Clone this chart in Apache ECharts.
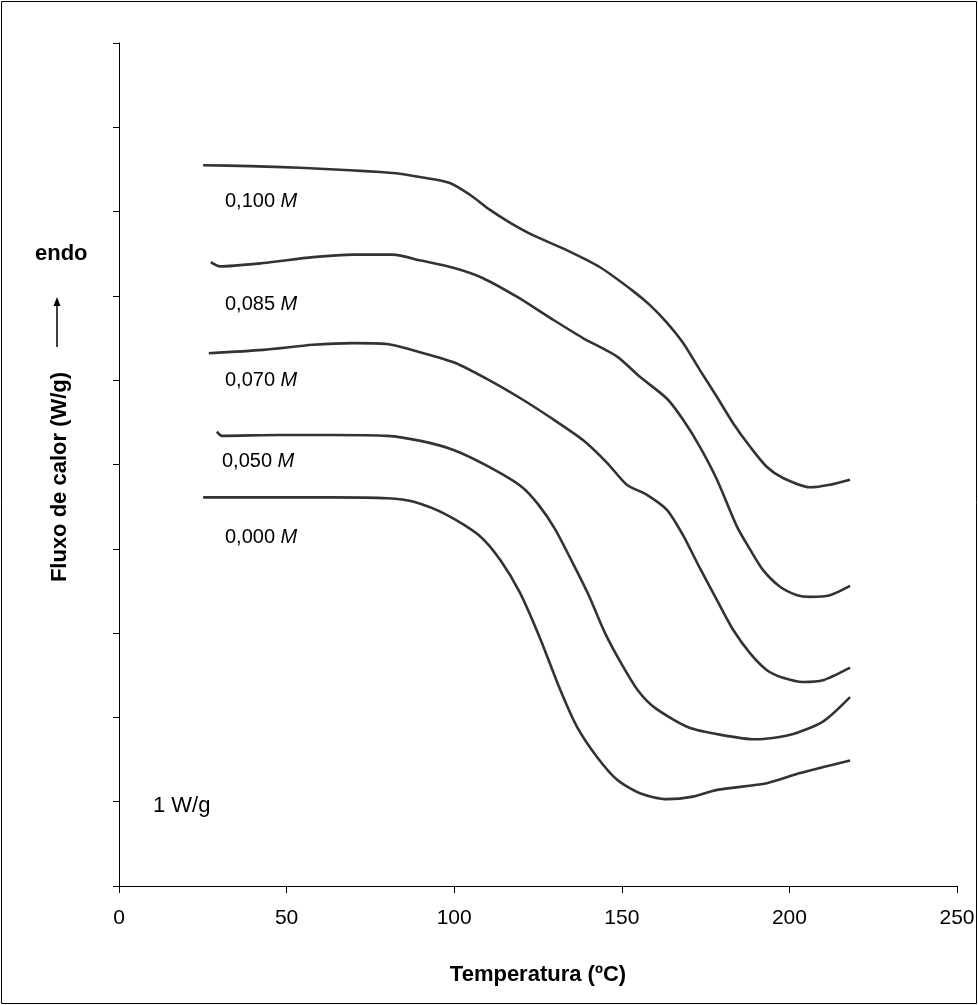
<!DOCTYPE html>
<html>
<head>
<meta charset="utf-8">
<script src="https://cdn.jsdelivr.net/npm/echarts@6/dist/echarts.min.js"></script>
<style>
  html, body { margin: 0; padding: 0; background: #fff; }
  #chart { width: 978px; height: 1005px; }
</style>
</head>
<body>
<div id="chart"></div>
<script>
// DSC curves: temperature (ºC) vs heat flow (W/g, curves offset vertically)
const xTicks = [0, 50, 100, 150, 200, 250];

const t100 = [25.1, 39.1, 54.0, 68.9, 77.9, 83.8, 89.8, 98.7, 104.7, 110.7, 116.6, 123.5, 133.7, 143.5, 153.3, 158.4, 163.5, 168.3, 173.3, 178.4, 183.2, 188.3, 193.3, 198.1, 206.1, 212.1, 218.1];
const y100 = [8.55, 8.54, 8.52, 8.49, 8.47, 8.45, 8.41, 8.34, 8.20, 8.02, 7.87, 7.72, 7.54, 7.34, 7.06, 6.89, 6.68, 6.44, 6.12, 5.80, 5.49, 5.21, 4.97, 4.84, 4.73, 4.76, 4.82];

const t085 = [27.4, 30.1, 43.0, 57.9, 69.8, 81.7, 90.0, 100.0, 108.6, 118.7, 128.6, 138.4, 148.6, 155.4, 163.5, 168.3, 173.3, 178.4, 184.4, 188.3, 192.1, 197.2, 202.3, 206.1, 212.1, 218.1];
const y085 = [7.40, 7.35, 7.39, 7.46, 7.49, 7.49, 7.42, 7.33, 7.21, 6.99, 6.74, 6.50, 6.28, 6.04, 5.78, 5.53, 5.21, 4.82, 4.26, 3.99, 3.75, 3.55, 3.45, 3.43, 3.45, 3.56];

const t070 = [26.8, 43.0, 57.9, 69.8, 79.9, 90.0, 100.0, 110.0, 120.0, 128.6, 138.4, 145.6, 151.5, 157.5, 163.5, 168.3, 173.3, 178.4, 183.2, 188.3, 193.3, 198.1, 204.1, 210.0, 218.1];
const y070 = [6.32, 6.36, 6.42, 6.44, 6.43, 6.33, 6.21, 6.01, 5.78, 5.56, 5.29, 5.02, 4.76, 4.64, 4.46, 4.16, 3.77, 3.39, 3.04, 2.76, 2.56, 2.47, 2.42, 2.44, 2.59];

const t050 = [29.2, 30.7, 48.0, 63.0, 80.0, 90.0, 100.0, 110.0, 120.0, 125.0, 130.0, 135.0, 140.0, 145.0, 150.0, 155.0, 160.0, 170.0, 180.0, 190.0, 200.0, 210.0, 218.1];
const y050 = [5.39, 5.34, 5.35, 5.35, 5.34, 5.28, 5.17, 4.98, 4.74, 4.53, 4.24, 3.86, 3.46, 3.00, 2.63, 2.31, 2.11, 1.88, 1.79, 1.74, 1.79, 1.95, 2.24];

const t000 = [25.1, 45.0, 63.0, 80.0, 87.7, 97.9, 107.7, 113.7, 119.6, 125.6, 131.6, 136.6, 142.6, 148.6, 155.4, 163.5, 171.2, 178.4, 193.3, 203.2, 218.1];
const y000 = [4.61, 4.61, 4.61, 4.60, 4.56, 4.40, 4.15, 3.87, 3.48, 2.94, 2.33, 1.89, 1.53, 1.26, 1.10, 1.03, 1.06, 1.14, 1.22, 1.34, 1.49];

const seriesNames = ['0,100 M', '0,085 M', '0,070 M', '0,050 M', '0,000 M'];
const concLabels = ['0,100', '0,085', '0,070', '0,050', '0,000'];

const pairs = (xs, ys) => xs.map((x, i) => [x, ys[i]]);
const curves = [pairs(t100, y100), pairs(t085, y085), pairs(t070, y070), pairs(t050, y050), pairs(t000, y000)];

const FONT = '"Liberation Sans", Arial, Helvetica, sans-serif';
const INK = '#000';
const LINE = '#333333';

const chart = echarts.init(document.getElementById('chart'), null, { renderer: 'canvas' });

// label positions (left edge, vertical centre) for each concentration
const labelPos = [[225, 201], [225, 304], [225, 380], [222, 461], [225, 537]];

const graphics = [
  { type: 'rect', shape: { x: 1.5, y: 1.5, width: 975, height: 1002 },
    style: { fill: 'none', stroke: '#000', lineWidth: 1 }, silent: true },
  { type: 'text', left: 35, top: 243,
    style: { text: 'endo', font: 'bold 22px ' + FONT, fill: INK } },
  { type: 'line', shape: { x1: 57, y1: 347, x2: 57, y2: 304 },
    style: { stroke: INK, lineWidth: 1.5 } },
  { type: 'polygon', shape: { points: [[57, 297], [53.5, 306], [60.5, 306]] },
    style: { fill: INK } },
  { type: 'text', x: 60, y: 477, rotation: Math.PI / 2,
    style: { text: 'Fluxo de calor (W/g)', font: 'bold 22px ' + FONT, fill: INK,
             align: 'center', verticalAlign: 'middle' } },
  { type: 'text', x: 153, y: 806,
    style: { text: '1 W/g', font: '22px ' + FONT, fill: INK, verticalAlign: 'middle' } }
];
concLabels.forEach((c, i) => {
  graphics.push({
    type: 'text', x: labelPos[i][0], y: labelPos[i][1],
    style: {
      text: '{n|' + c + ' }{m|M}',
      verticalAlign: 'middle',
      rich: {
        n: { font: '20px ' + FONT, fill: INK },
        m: { font: 'italic 20px ' + FONT, fill: INK }
      }
    }
  });
});

chart.setOption({
  animation: false,
  backgroundColor: '#fff',
  grid: { left: 119, right: 21, top: 43, bottom: 119, containLabel: false },
  xAxis: {
    type: 'value', min: 0, max: 250, interval: 50,
    name: 'Temperatura (ºC)', nameLocation: 'middle', nameGap: 78,
    nameTextStyle: { fontFamily: FONT, fontWeight: 'bold', fontSize: 22, color: INK },
    axisLine: { show: true, lineStyle: { color: '#000', width: 1 } },
    axisTick: { show: true, length: 7, lineStyle: { color: '#000' } },
    axisLabel: { fontFamily: FONT, fontSize: 21, color: INK, margin: 22,
                 formatter: v => xTicks.includes(v) ? String(v) : '' },
    splitLine: { show: false }
  },
  yAxis: {
    type: 'value', min: 0, max: 10, interval: 1,
    axisLine: { show: true, lineStyle: { color: '#000', width: 1 } },
    axisTick: { show: true, length: 6, lineStyle: { color: '#000' } },
    axisLabel: { show: false },
    splitLine: { show: false }
  },
  graphic: graphics,
  series: curves.map((d, i) => ({
    name: seriesNames[i],
    type: 'line',
    data: d,
    showSymbol: false,
    smooth: 0.25,
    lineStyle: { color: LINE, width: 2.6 }
  }))
});
</script>
</body>
</html>
